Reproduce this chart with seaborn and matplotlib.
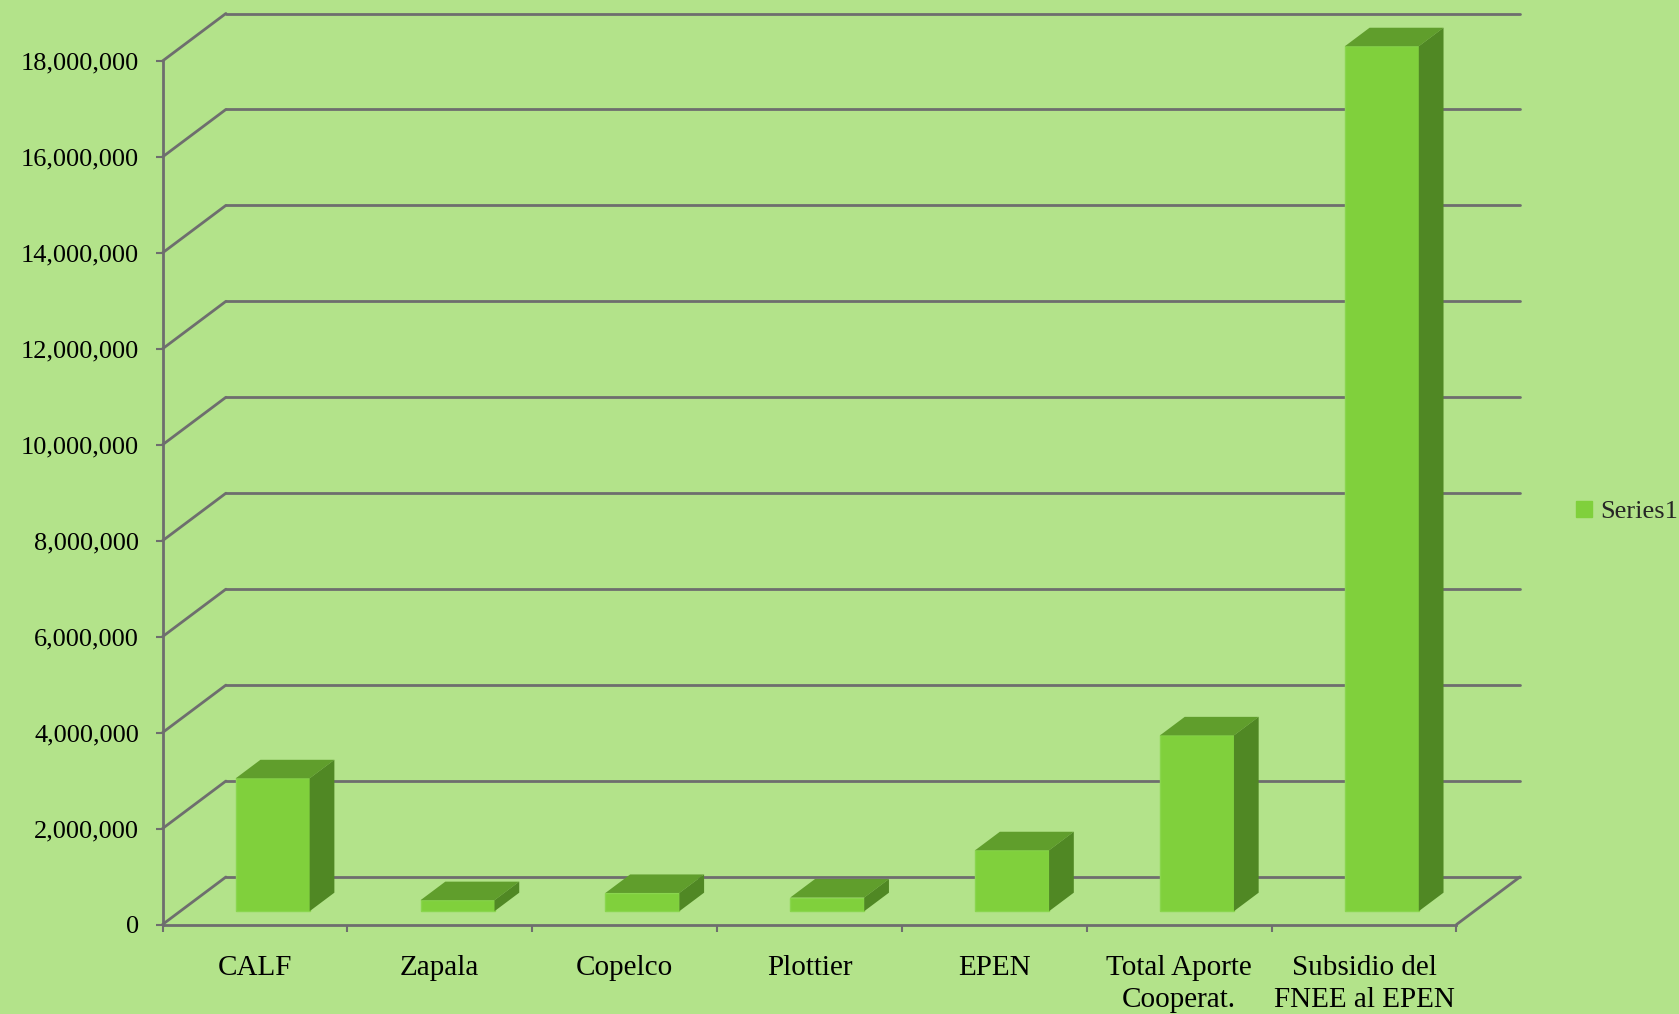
import numpy as np
import matplotlib.pyplot as plt
import seaborn as sns
from matplotlib.transforms import ScaledTranslation, IdentityTransform
from matplotlib.patches import Polygon, Patch
from matplotlib.lines import Line2D
from matplotlib.ticker import FuncFormatter

# -------------------------------
# data
# -------------------------------
categories = ["CALF", "Zapala", "Copelco", "Plottier", "EPEN",
              "Total Aporte\nCooperat.", "Subsidio del\nFNEE al EPEN"]
values = [2770000, 230000, 380000, 285000, 1270000, 3665000, 18030000]
y_ticks = list(range(0, 18000001, 2000000))
series_name = "Series1"

# colours
BG = "#B3E38A"
FRONT = "#80D03C"
TOP = "#609E2C"
SIDE = "#508824"
GRID = "#6E6E6E"

sns.set_theme(style="white", rc={"axes.facecolor": BG, "figure.facecolor": BG})
plt.rcParams["font.family"] = ["Liberation Serif", "DejaVu Serif"]

DPI = 100
fig = plt.figure(figsize=(16.79, 10.14), dpi=DPI)
ax = fig.add_axes([162.5 / 1679, (1014 - 924.5) / 1014,
                   (1456.5 - 162.5) / 1679, (924.5 - 61) / 1014])

# depth of the 3-D floor (pixels) and where the bars sit inside it
DX, DY = 63.4, 47.5
F0, F1 = 0.28, 0.67
W = 0.4

sns.barplot(x=categories, y=values, color=FRONT, saturation=1, width=W,
            ax=ax, zorder=3, edgecolor="#8AD64E", linewidth=1)

ax.set_xlim(-0.5, len(categories) - 0.5)
ax.set_ylim(0, y_ticks[-1])


def depth(f):
    return ax.transData + ScaledTranslation(f * DX / DPI, f * DY / DPI, fig.dpi_scale_trans)


def px(x, y, f):
    return depth(f).transform((x, y))


# front faces pushed back into the floor
for p in ax.patches:
    p.set_transform(depth(F0))
    p.set_clip_on(False)

# top and side faces
for i, v in enumerate(values):
    l, r = i - W / 2, i + W / 2
    top = [px(l, v, F0), px(r, v, F0), px(r, v, F1), px(l, v, F1)]
    side = [px(r, 0, F0), px(r, v, F0), px(r, v, F1), px(r, 0, F1)]
    ax.add_artist(Polygon(top, closed=True, facecolor=TOP, edgecolor="none",
                          transform=IdentityTransform(), clip_on=False, zorder=3))
    ax.add_artist(Polygon(side, closed=True, facecolor=SIDE, edgecolor="none",
                          transform=IdentityTransform(), clip_on=False, zorder=3))

# back wall gridlines + diagonals from the front axis
x0, x1 = -0.5, len(categories) - 0.5
for v in y_ticks:
    ax.plot([x0, x1], [v, v], transform=depth(1), color=GRID, lw=2,
            clip_on=False, zorder=1)
    a, b = px(x0, v, 0), px(x0, v, 1)
    ax.add_artist(Line2D([a[0], b[0]], [a[1], b[1]], color=GRID, lw=2,
                         transform=IdentityTransform(), clip_on=False, zorder=1))
a, b = px(x1, 0, 0), px(x1, 0, 1)
ax.add_artist(Line2D([a[0], b[0]], [a[1], b[1]], color=GRID, lw=2,
                     transform=IdentityTransform(), clip_on=False, zorder=1))

# axes styling
for s in ["top", "right"]:
    ax.spines[s].set_visible(False)
for s in ["left", "bottom"]:
    ax.spines[s].set_color(GRID)
    ax.spines[s].set_linewidth(2)

ax.set_yticks(y_ticks)
ax.yaxis.set_major_formatter(FuncFormatter(lambda v, _: f"{int(v):,}"))
ax.tick_params(axis="y", left=True, direction="out", length=5, width=1.5,
               color=GRID, labelsize=19, pad=12, labelcolor="black")

ax.set_xticks(range(len(categories)))
ax.set_xticklabels(categories, linespacing=1.3)
ax.set_xticks(np.arange(x0, x1 + 0.01, 1), minor=True)
ax.tick_params(axis="x", which="major", bottom=False, length=0, labelsize=21,
               pad=22, labelcolor="black")
ax.tick_params(axis="x", which="minor", bottom=True, direction="out", length=5,
               width=1.5, color=GRID)
ax.set_xlabel("")
ax.set_ylabel("")

fig.legend(handles=[Patch(color=FRONT, label=series_name)], loc="center left",
           bbox_to_anchor=(1576 / 1679, 1 - 512 / 1014), frameon=False,
           fontsize=19, handlelength=0.6, handleheight=0.6, handletextpad=0.3,
           borderpad=0, borderaxespad=0)

fig.savefig("out.png", dpi=DPI, facecolor=BG)
